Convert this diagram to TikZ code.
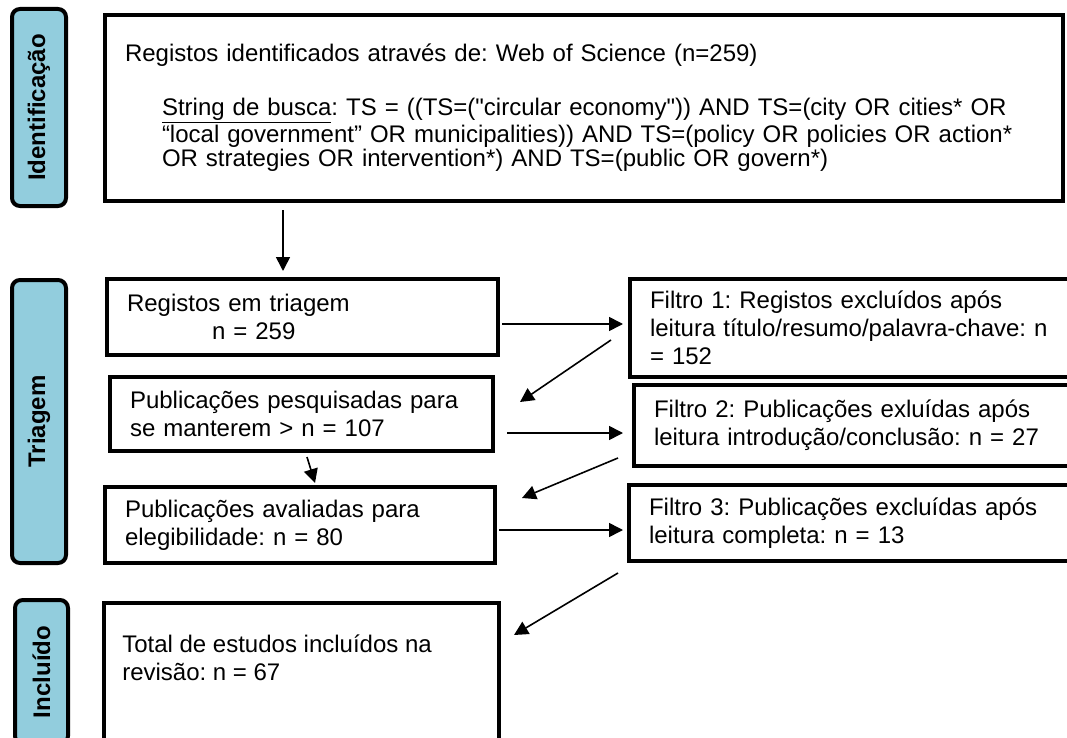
\documentclass[tikz,border=0pt]{standalone}
\usepackage{fontspec}
\setmainfont{Liberation Sans}[Ligatures=TeXOff]
\usetikzlibrary{arrows.meta,positioning}
\definecolor{azul}{RGB}{146,205,221}
\frenchspacing

\begin{document}
\begin{tikzpicture}[x=0.75pt,y=-0.75pt,
	caixa/.style={draw,line width=3pt,align=left,inner xsep=15pt,inner ysep=0pt,font=\fontsize{18}{21}\selectfont},
	fase/.style={draw,line width=3pt,rounded corners=6pt,fill=azul,rotate=90,minimum height=40.5pt,font=\bfseries\fontsize{18}{21}\selectfont},
	seta/.style={-{Triangle[length=10.5pt,width=10.5pt]},line width=1.2pt}]
	\useasboundingbox (0,0) rectangle (1067,738);
	\clip (0,0) rectangle (1067,738);

	\node[fase,minimum width=147.75pt] (ident) at (39,107.5) {Identificação};
	\node[fase,minimum width=212.25pt] (triag) at (39,421.5) {Triagem};
	\node[fase,minimum width=108pt,minimum height=39.75pt] (incl) at (41.5,672) {Incluído};

	\node[caixa,text width=688.5pt,minimum height=139.5pt,font=\fontsize{18}{18.5}\selectfont] (busca) at (584,108)
		{Registos identificados através de: Web of Science (n=259)\\[22pt]
		\hspace*{27.75pt}\underline{String de busca}: TS = ((TS=("circular economy")) AND TS=(city OR cities* OR\\
		\hspace*{27.75pt}“local government” OR municipalities)) AND TS=(policy OR policies OR action*\\
		\hspace*{27.75pt}OR strategies OR intervention*) AND TS=(public OR govern*)};
	\node[caixa,text width=263.25pt,minimum height=57pt] (triagem) at (302.5,317)
		{Registos em triagem\\\hspace*{63.75pt}n = 259};
	\node[caixa,text width=257.25pt,minimum height=55.5pt] (pesq) at (301.5,414)
		{Publicações pesquisadas para\\se manterem > n = 107};
	\node[caixa,text width=262.5pt,minimum height=57pt] (aval) at (300,525)
		{Publicações avaliadas para\\elegibilidade: n = 80};
	\node[caixa,text width=307.5pt,minimum height=73.5pt] (filtro1) at (855,328)
		{Filtro 1: Registos excluídos após\\leitura título/resumo/palavra-chave: n\\= 152};
	\node[caixa,text width=304.5pt,minimum height=60.75pt] (filtro2) at (857,425.5)
		{Filtro 2: Publicações exluídas após\\leitura introdução/conclusão: n = 27};
	\node[caixa,text width=308.25pt,minimum height=57pt] (filtro3) at (854.5,523)
		{Filtro 3: Publicações excluídas após\\leitura completa: n = 13};
	\node[caixa,text width=266.25pt,minimum height=117.75pt] (total) at (301.5,681.5) {};
	\node[font=\fontsize{18}{21}\selectfont,align=left,inner sep=0pt,below right=25pt and 15pt of total.north west] (total-txt)
		{Total de estudos incluídos na\\revisão: n = 67};

	\draw[seta] ([shift={(-19.5,-67)}]triagem.north) -- ([shift={(-19.5,-6)}]triagem.north);
	\draw[seta] ([shift={(2,7)}]triagem.east) -- ([shift={(-5,-4)}]filtro1.west);
	\draw[seta] ([shift={(-17,12)}]filtro1.west) -- ([shift={(25,-12)}]pesq.east);
	\draw[seta] ([shift={(12,19)}]pesq.east) -- ([shift={(-9,7.5)}]filtro2.west);
	\draw[seta] ([shift={(5.5,4)}]pesq.south) -- ([shift={(15,-2)}]aval.north);
	\draw[seta] ([shift={(-14,32.5)}]filtro2.west) -- ([shift={(25,-27)}]aval.east);
	\draw[seta] ([shift={(2,5)}]aval.east) -- ([shift={(-4,7)}]filtro3.west);
	\draw[seta] ([shift={(-9,50)}]filtro3.west) -- ([shift={(13,-46.5)}]total.east);
\end{tikzpicture}
\end{document}
